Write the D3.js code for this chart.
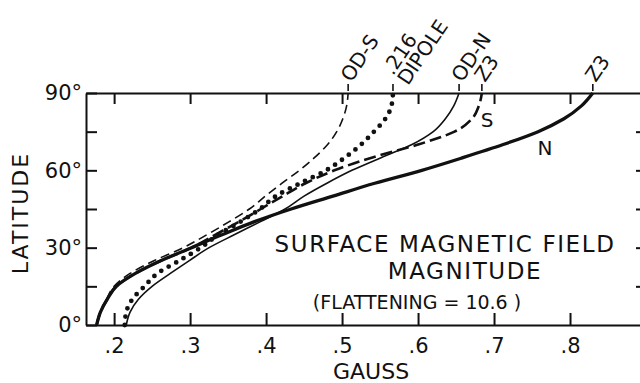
<!DOCTYPE html>
<html>
<head>
<meta charset="utf-8">
<script src="https://cdn.jsdelivr.net/npm/d3@7"></script>
<style>
  html, body { margin: 0; padding: 0; background: #fff; }
  svg { display: block; font-family: 'DejaVu Sans', 'Liberation Sans', sans-serif; }
  .axis path, .axis line { fill: none; stroke: #111; stroke-width: 2; }
  .axis text { font-size: 21px; fill: #111; font-family: 'DejaVu Sans', sans-serif; }
  .curve { fill: none; stroke: #111; }
  .label { fill: #111; }
</style>
</head>
<body>
<div id="chart"></div>
<script>
// Latitude samples (degrees) shared by all curves
const latitudes = [0, 5, 10, 15, 20, 25, 30, 35, 40, 45, 50, 55, 60, 65, 70, 75, 80, 85, 90];

// Surface field magnitude (gauss) at each latitude
const odSouth = [0.177, 0.182, 0.190, 0.200, 0.221, 0.253, 0.291, 0.322, 0.351, 0.378, 0.399, 0.421, 0.444, 0.464, 0.481, 0.493, 0.501, 0.506, 0.508];
const dipole  = [0.214, 0.216, 0.224, 0.240, 0.257, 0.286, 0.314, 0.337, 0.366, 0.392, 0.413, 0.445, 0.479, 0.504, 0.525, 0.542, 0.557, 0.565, 0.567];
const odNorth = [0.216, 0.221, 0.232, 0.250, 0.274, 0.299, 0.325, 0.358, 0.392, 0.425, 0.450, 0.480, 0.513, 0.552, 0.592, 0.620, 0.636, 0.647, 0.654];
const z3South = [0.177, 0.182, 0.191, 0.203, 0.228, 0.262, 0.302, 0.333, 0.364, 0.393, 0.422, 0.452, 0.490, 0.540, 0.600, 0.648, 0.671, 0.680, 0.684];
const z3North = [0.177, 0.182, 0.191, 0.203, 0.228, 0.262, 0.302, 0.342, 0.384, 0.433, 0.488, 0.543, 0.605, 0.660, 0.712, 0.758, 0.792, 0.815, 0.830];

// Axis ticks
const gaussTicks = [0.2, 0.3, 0.4, 0.5, 0.6, 0.7, 0.8];
const gaussLabels = ['.2', '.3', '.4', '.5', '.6', '.7', '.8'];
const latTicks = [0, 15, 30, 45, 60, 75, 90];
const latLabelTicks = [0, 30, 60, 90];
const rightTicks = [15, 30, 45, 60, 75];

const W = 640, H = 383;
const margin = { top: 93, left: 86, bottom: 58 };
const plotRight = 646; // frame runs just past the picture edge

const x = d3.scaleLinear().domain([0.163, 0.9]).range([margin.left, plotRight]);
const y = d3.scaleLinear().domain([0, 90]).range([H - margin.bottom, margin.top]);

const svg = d3.select('#chart').append('svg')
  .attr('width', W).attr('height', H)
  .attr('viewBox', `0 0 ${W} ${H}`);

// Frame and ticks (all ticks point inward)
svg.append('g').attr('class', 'axis')
  .attr('transform', `translate(0,${y(0)})`)
  .call(d3.axisBottom(x).tickValues(gaussTicks).tickSizeInner(-12).tickSizeOuter(0)
    .tickPadding(13).tickFormat((d, i) => gaussLabels[i]));

svg.append('g').attr('class', 'axis')
  .attr('transform', `translate(0,${y(90)})`)
  .call(d3.axisTop(x).tickValues(gaussTicks).tickSizeInner(-11).tickSizeOuter(0).tickFormat(''));

svg.append('g').attr('class', 'axis')
  .attr('transform', `translate(${margin.left},0)`)
  .call(d3.axisLeft(y).tickValues(latTicks).tickSizeInner(-11).tickSizeOuter(0)
    .tickPadding(4).tickFormat(d => latLabelTicks.includes(d) ? d + '°' : ''));

svg.append('g').attr('class', 'axis')
  .attr('transform', `translate(${plotRight},0)`)
  .call(d3.axisRight(y).tickValues(rightTicks).tickSizeInner(-10).tickSizeOuter(0).tickFormat(''));

// Axis titles
svg.append('text').attr('class', 'label')
  .attr('transform', `translate(20,${y(45) + 4}) rotate(-90)`)
  .attr('text-anchor', 'middle').attr('dominant-baseline', 'central')
  .style('font-size', '22px').style('letter-spacing', '2px')
  .text('LATITUDE');

svg.append('text').attr('class', 'label')
  .attr('x', x(0.5) + 29).attr('y', 379)
  .attr('text-anchor', 'middle')
  .style('font-size', '22px')
  .text('GAUSS');

// Curves
const series = [
  { name: 'odSouth', values: odSouth, width: 1.6, dash: '9,5' },
  { name: 'z3South', values: z3South, width: 2.6, dash: '12,5' },
  { name: 'odNorth', values: odNorth, width: 1.6, dash: null },
  { name: 'z3North', values: z3North, width: 3.3, dash: null },
  { name: 'dipole',  values: dipole,  width: 4.8, dash: '0,8.5', round: true }
];

const line = d3.line()
  .x(d => x(d.g))
  .y(d => y(d.lat))
  .curve(d3.curveMonotoneY);

series.forEach(s => {
  const pts = latitudes.map((lat, i) => ({ lat, g: s.values[i] }));
  svg.append('path')
    .datum(pts)
    .attr('class', 'curve')
    .attr('d', line)
    .attr('stroke-width', s.width)
    .attr('stroke-dasharray', s.dash)
    .attr('stroke-linecap', s.round ? 'round' : 'butt');
});

// Curve labels above the frame, with a short leader at each curve end
const curveLabels = [
  { lines: ['OD-S'], g: odSouth[odSouth.length - 1], dx: 3 },
  { lines: ['.216', 'DIPOLE'], g: dipole[dipole.length - 1], dx: 10 },
  { lines: ['OD-N'], g: odNorth[odNorth.length - 1], dx: 3 },
  { lines: ['Z3'], g: z3South[z3South.length - 1], dx: 3 },
  { lines: ['Z3'], g: z3North[z3North.length - 1], dx: 3 }
];

curveLabels.forEach(c => {
  svg.append('line')
    .attr('x1', x(c.g)).attr('x2', x(c.g))
    .attr('y1', y(90) - 9).attr('y2', y(90) - 2)
    .attr('stroke', '#111').attr('stroke-width', 1.6);
  const t = svg.append('text').attr('class', 'label')
    .attr('transform', `translate(${x(c.g) + c.dx},${y(90) - 10}) rotate(-56)`)
    .style('font-size', '20px');
  c.lines.forEach((ln, i) => {
    t.append('tspan').attr('x', 0).attr('y', c.lines.length > 1 ? (i - 1) * 18 + 6 : 0).text(ln);
  });
});

// Hemisphere tags on the Z3 curves
svg.append('text').attr('class', 'label')
  .attr('x', x(0.691)).attr('y', y(79.5)).attr('text-anchor', 'middle')
  .attr('dominant-baseline', 'central').style('font-size', '20px').text('S');
svg.append('text').attr('class', 'label')
  .attr('x', x(0.767)).attr('y', y(68.5)).attr('text-anchor', 'middle')
  .attr('dominant-baseline', 'central').style('font-size', '20px').text('N');

// Title block inside the plot
svg.append('text').attr('class', 'label')
  .attr('x', 445).attr('y', 252)
  .attr('text-anchor', 'middle')
  .style('font-size', '23px').style('letter-spacing', '1.6px')
  .text('SURFACE MAGNETIC FIELD');
svg.append('text').attr('class', 'label')
  .attr('x', 465).attr('y', 279)
  .attr('text-anchor', 'middle')
  .style('font-size', '23px').style('letter-spacing', '1.6px')
  .text('MAGNITUDE');
svg.append('text').attr('class', 'label')
  .attr('x', 417).attr('y', 309)
  .attr('text-anchor', 'middle')
  .style('font-size', '19px')
  .text('(FLATTENING = 10.6 )');
</script>
</body>
</html>
